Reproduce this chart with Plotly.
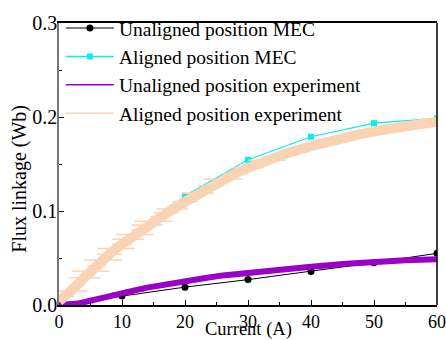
import plotly.graph_objects as go

# MEC model points
mec_current = [0, 10, 20, 30, 40, 50, 60]
unaligned_mec = [0.0, 0.0095, 0.019, 0.027, 0.0357, 0.045, 0.055]
aligned_mec = [0.0, 0.063, 0.1163, 0.1545, 0.179, 0.1934, 0.1986]

# experiment
exp_current_al = [0, 1, 2, 3, 4, 5, 6, 7, 8, 9, 10, 11, 12, 13, 14, 15, 16, 17, 18, 19, 20,
                  22, 24, 26, 28, 30, 33, 36, 40, 44, 48, 52, 56, 60]
aligned_exp = [0.004, 0.009, 0.015, 0.022, 0.029, 0.036, 0.042, 0.048, 0.054, 0.060, 0.065,
               0.070, 0.075, 0.080, 0.085, 0.089, 0.094, 0.098, 0.102, 0.106, 0.110,
               0.119, 0.127, 0.134, 0.140, 0.146, 0.154, 0.161, 0.169, 0.176, 0.182,
               0.187, 0.191, 0.195]
aligned_jitter = [0.5, 1.5, 2.5, 1.0, 2.5, 3.0, 1.5, 3.0, 2.0, 3.0, 1.5, 2.5, 3.0, 1.5, 2.5,
                  3.0, 1.5, 2.0, 2.5, 1.5, 2.0, 2.5, 2.0, 3.0, 2.0, 2.5, 3.0, 2.0, 2.5,
                  3.0, 2.0, 2.5, 2.0, 1.0]

exp_current_un = [0, 1, 2, 3, 4, 6, 8, 10, 12, 14, 16, 18, 20, 23, 26, 30, 35, 40, 45, 50, 55, 60]
unaligned_exp = [0.0, 0.0, 0.0005, 0.0015, 0.003, 0.0065, 0.0095, 0.0125, 0.0155, 0.0185,
                 0.021, 0.0235, 0.0255, 0.0285, 0.0315, 0.0345, 0.038, 0.0406, 0.0435, 0.046,
                 0.0475, 0.0486]
unaligned_jitter = [0.5, 0.5, 1.0, 1.0, 1.5, 1.5, 1.0, 1.5, 1.5, 1.0, 1.5, 1.0, 1.5, 1.5,
                    1.0, 1.5, 1.5, 1.0, 1.5, 1.0, 1.5, 0.5]

legend_names = ["Unaligned position MEC", "Aligned position MEC",
                "Unaligned position experiment", "Aligned position experiment"]

x_ticks = [0, 10, 20, 30, 40, 50, 60]
y_ticks = [0.0, 0.1, 0.2, 0.3]
y_tick_text = ["0.0", "0.1", "0.2", "0.3"]

PEACH = "#FAD3B4"
PURPLE = "#9A00C8"
CYAN = "#00F0F0"
font_family = "Liberation Serif, Times New Roman, serif"

fig = go.Figure()

# data traces (no legend), drawn in this order
fig.add_trace(go.Scatter(
    x=mec_current, y=aligned_mec, mode="lines+markers", showlegend=False,
    line=dict(color=CYAN, width=1.2), marker=dict(symbol="square", size=6, color=CYAN)))
fig.add_trace(go.Scatter(
    x=mec_current, y=unaligned_mec, mode="lines+markers", showlegend=False,
    line=dict(color="black", width=1), marker=dict(symbol="circle", size=7, color="black")))
fig.add_trace(go.Scatter(
    x=exp_current_un, y=unaligned_exp, mode="lines", showlegend=False,
    line=dict(color=PURPLE, width=6),
    error_x=dict(type="data", array=unaligned_jitter, color=PURPLE, thickness=2, width=0)))
fig.add_trace(go.Scatter(
    x=exp_current_al, y=aligned_exp, mode="lines", showlegend=False,
    line=dict(color=PEACH, width=10),
    error_x=dict(type="data", array=aligned_jitter, color=PEACH, thickness=1.5, width=0)))

# legend entries
fig.add_trace(go.Scatter(x=[None], y=[None], name=legend_names[0], mode="lines+markers",
                         line=dict(color="#555555", width=1.5),
                         marker=dict(symbol="circle", size=7, color="black"), legendrank=1))
fig.add_trace(go.Scatter(x=[None], y=[None], name=legend_names[1], mode="lines+markers",
                         line=dict(color=CYAN, width=1.5),
                         marker=dict(symbol="square", size=6, color=CYAN), legendrank=2))
fig.add_trace(go.Scatter(x=[None], y=[None], name=legend_names[2], mode="lines",
                         line=dict(color=PURPLE, width=1.5), legendrank=3))
fig.add_trace(go.Scatter(x=[None], y=[None], name=legend_names[3], mode="lines",
                         line=dict(color=PEACH, width=1.5), legendrank=4))

fig.update_layout(
    width=446, height=340,
    margin=dict(l=59, r=9, t=17, b=35),
    paper_bgcolor="white", plot_bgcolor="white",
    font=dict(family=font_family, size=20, color="black"),
    showlegend=True,
    legend=dict(x=0.005, y=1.05, xanchor="left", yanchor="top",
                bgcolor="rgba(0,0,0,0)", font=dict(size=19.5, family=font_family),
                traceorder="normal", itemwidth=48, tracegroupgap=0,
                indentation=0),
    annotations=[
        dict(text="Current (A)", xref="paper", yref="paper", x=0.5, y=-0.088,
             xanchor="center", yanchor="middle", showarrow=False,
             font=dict(size=18.5, family=font_family)),
        dict(text="Flux linkage (Wb)", xref="paper", yref="paper", x=-0.103, y=0.448,
             xanchor="center", yanchor="middle", showarrow=False, textangle=-90,
             font=dict(size=20, family=font_family)),
    ],
)

fig.update_xaxes(
    range=[0, 60], tickvals=x_ticks, ticks="inside", ticklen=5, tickwidth=1,
    tickcolor="black", showline=True, linecolor="black", linewidth=1.5, mirror=True,
    showgrid=False, zeroline=False, automargin=False, ticklabelstandoff=0,
    ticklabeloverflow="allow",
    minor=dict(tickvals=[5, 15, 25, 35, 45, 55], ticks="inside", ticklen=3, tickcolor="black"),
    tickfont=dict(size=18),
)
fig.update_yaxes(
    range=[0, 0.3], tickvals=y_ticks, ticktext=y_tick_text, ticks="inside", ticklen=5,
    tickwidth=1, tickcolor="black", showline=True, linecolor="#777777", linewidth=1.5,
    mirror=False, showgrid=False, zeroline=False, automargin=False, ticklabelstandoff=-4,
    ticklabeloverflow="allow",
    minor=dict(tickvals=[0.05, 0.15, 0.25], ticks="inside", ticklen=3, tickcolor="black"),
    tickfont=dict(size=20),
)

fig.add_shape(type="line", xref="paper", yref="paper", x0=1, x1=1, y0=0, y1=1,
              line=dict(color="black", width=1.5))

fig.write_html("out.html")
